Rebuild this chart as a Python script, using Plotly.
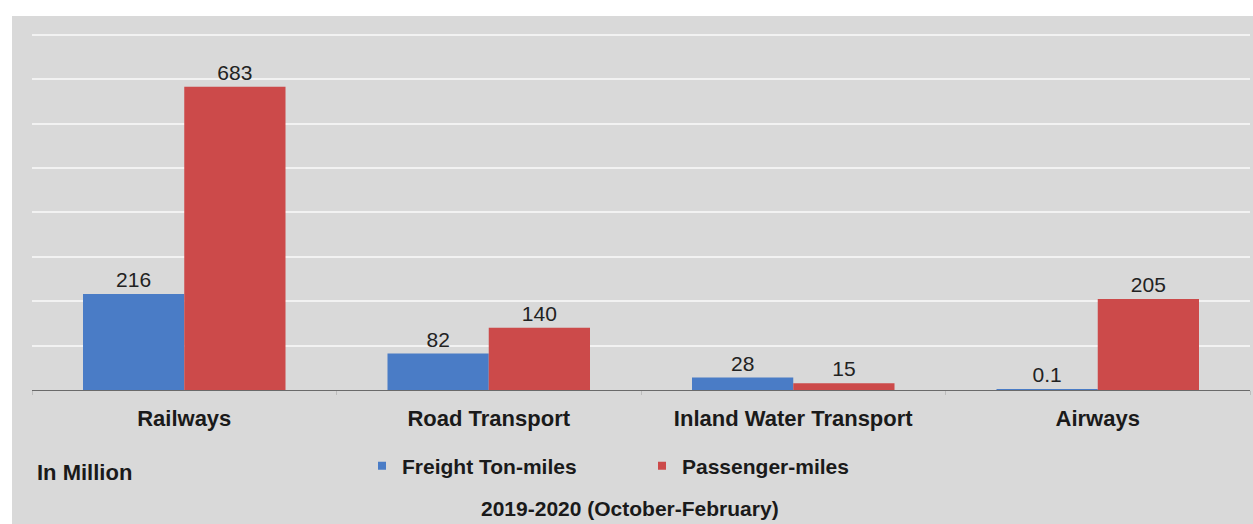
import plotly.graph_objects as go

# Transport volumes, 2019-2020 (October-February), in million
categories = ["Railways", "Road Transport", "Inland Water Transport", "Airways"]
freight_ton_miles = [216, 82, 28, 0.1]
passenger_miles = [683, 140, 15, 205]
freight_labels = ["216", "82", "28", "0.1"]
passenger_labels = ["683", "140", "15", "205"]
series_names = ["Freight Ton-miles", "Passenger-miles"]
grid_values = [100, 200, 300, 400, 500, 600, 700, 800]

FONT = "Liberation Sans, Arial, sans-serif"
BLUE = "#4a7cc6"
RED = "#cc4a4a"
BG = "#d9d9d9"
GRID = "#f2f2f2"

W, H = 1253, 524
ML, MR, MT, MB = 32, 3, 26, 134
PW, PH = W - ML - MR, H - MT - MB


def px_x(x):
    return (x - ML) / PW


def px_y(y):
    return (H - MB - y) / PH


fig = go.Figure()
for name, vals, labels, color in [
    (series_names[0], freight_ton_miles, freight_labels, BLUE),
    (series_names[1], passenger_miles, passenger_labels, RED),
]:
    fig.add_trace(go.Bar(
        name=name, x=categories, y=vals, showlegend=False,
        marker=dict(color=color, line=dict(width=0)),
        text=labels, textposition="outside", cliponaxis=False,
        textfont=dict(family=FONT, size=21, color="#222222"),
    ))

# small square keys for the legend
for name, color in [(series_names[0], BLUE), (series_names[1], RED)]:
    fig.add_trace(go.Scatter(
        name=name, x=[None], y=[None], mode="markers",
        marker=dict(symbol="square", size=8, color=color),
        showlegend=True, hoverinfo="skip",
    ))

# grey panel behind the chart, leaving a thin white border top and left
fig.add_shape(type="rect", xref="paper", yref="paper", layer="below",
              x0=px_x(12), x1=px_x(W + 5), y0=px_y(16), y1=px_y(H + 5),
              fillcolor=BG, line=dict(width=0))

fig.add_annotation(text="<b>In Million</b>", xref="paper", yref="paper",
                   x=px_x(35), y=px_y(472), xanchor="left", yanchor="middle",
                   showarrow=False, font=dict(family=FONT, size=22, color="#1a1a1a"))
fig.add_annotation(text="<b>2019-2020 (October-February)</b>", xref="paper", yref="paper",
                   x=px_x(630), y=px_y(508), xanchor="center", yanchor="middle",
                   showarrow=False, font=dict(family=FONT, size=21, color="#1a1a1a"))

fig.update_layout(
    width=W, height=H,
    margin=dict(l=ML, r=MR, t=MT, b=MB, autoexpand=False),
    paper_bgcolor="white", plot_bgcolor="rgba(0,0,0,0)",
    barmode="group", bargap=0.335, bargroupgap=0,
    font=dict(family=FONT, color="#1a1a1a"),
    showlegend=True,
    legend=dict(
        orientation="h", xref="paper", yref="paper",
        x=px_x(362), y=px_y(466), xanchor="left", yanchor="middle",
        entrywidth=235, entrywidthmode="pixels", itemsizing="trace",
        bgcolor="rgba(0,0,0,0)", borderwidth=0,
        font=dict(family=FONT, size=21, color="#1a1a1a", weight="bold"),
        traceorder="normal",
    ),
    xaxis=dict(
        showgrid=False, showline=True, linecolor="#6a6a6a", linewidth=1,
        ticks="outside", tickson="boundaries", ticklen=4, tickcolor="#bdbdbd",
        tickfont=dict(family=FONT, size=22, color="#1a1a1a", weight="bold"),
        ticklabelstandoff=9,
    ),
    yaxis=dict(
        range=[0, 820], tickmode="array", tickvals=grid_values,
        showticklabels=False,
        showgrid=True, gridcolor=GRID, gridwidth=2,
        zeroline=False, showline=False,
    ),
)

fig.write_html("out.html")
